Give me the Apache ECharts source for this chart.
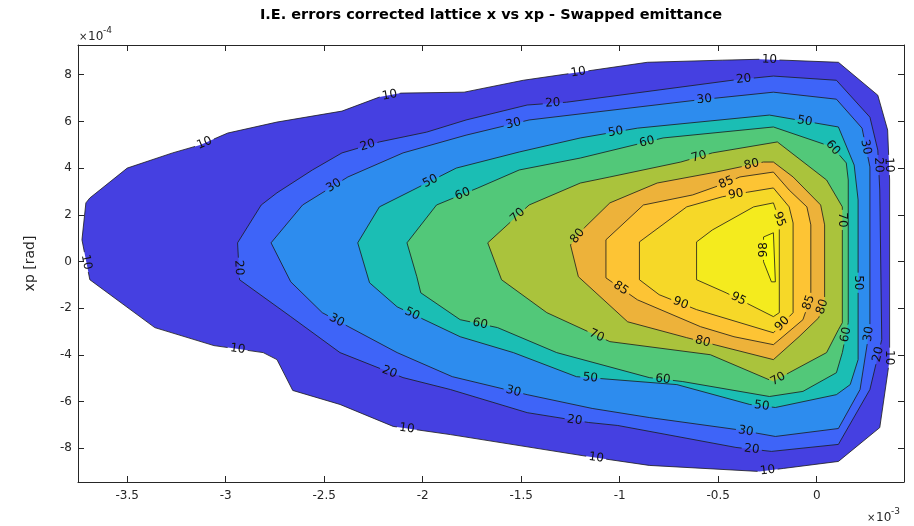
<!DOCTYPE html>
<html>
<head>
<meta charset="utf-8">
<title>I.E. errors corrected lattice x vs xp - Swapped emittance</title>
<script src="https://cdn.jsdelivr.net/npm/echarts@6/dist/echarts.min.js"></script>
<style>
html, body { margin: 0; padding: 0; background: #fff; }
#main { width: 914px; height: 526px; }
</style>
</head>
<body>
<div id="main"></div>
<script>
// contour levels, x in 1e-3 m, xp in 1e-4 rad
var levels = [10, 20, 30, 50, 60, 70, 80, 85, 90, 95, 98];

var c10 = [[-3.71,2.51],[-3.69,2.72],[-3.50,4.00],[-3.27,4.65],[-3.13,4.99],[-2.99,5.50],[-2.74,5.97],[-2.41,6.44],[-2.22,7.04],[-2.11,7.21],[-1.79,7.25],[-1.49,7.76],[-0.86,8.53],[-0.48,8.62],[-0.29,8.66],[0.11,8.53],[0.31,7.12],[0.36,5.63],[0.37,3.49],[0.37,-4.20],[0.32,-7.11],[0.11,-8.56],[-0.17,-8.86],[-0.29,-8.99],[-0.85,-8.73],[-1.16,-8.35],[-1.86,-7.41],[-2.15,-7.06],[-2.42,-6.12],[-2.66,-5.52],[-2.74,-4.20],[-2.81,-3.90],[-3.06,-3.60],[-3.36,-2.83],[-3.69,-0.78],[-3.73,0.93]];
var c20 = [[-2.94,0.80],[-2.82,2.42],[-2.74,2.94],[-2.56,3.92],[-2.41,4.65],[-2.22,5.12],[-1.98,5.54],[-1.78,6.06],[-1.47,6.70],[-1.27,6.82],[-0.43,7.76],[-0.22,7.94],[0.10,7.76],[0.27,6.18],[0.31,4.77],[0.32,3.06],[0.33,-3.35],[0.27,-5.48],[0.11,-7.83],[-0.23,-8.13],[-0.41,-7.96],[-1.01,-7.02],[-1.16,-6.89],[-1.47,-6.47],[-1.86,-5.48],[-2.10,-4.97],[-2.42,-3.90],[-2.67,-2.36],[-2.93,-0.78]];
var c30 = [[-2.77,0.80],[-2.61,2.42],[-2.38,3.62],[-2.10,4.65],[-1.78,5.41],[-1.46,6.06],[-0.61,6.91],[-0.22,7.25],[0.10,6.95],[0.23,5.71],[0.27,4.05],[0.27,-2.79],[0.22,-5.48],[0.11,-7.15],[-0.21,-7.49],[-0.41,-7.19],[-0.85,-6.68],[-1.14,-6.29],[-1.47,-5.70],[-1.85,-4.93],[-2.13,-3.90],[-2.51,-2.19],[-2.67,-0.87]];
var c50 = [[-2.33,0.80],[-2.22,2.34],[-2.05,3.06],[-1.83,4.00],[-1.51,4.69],[-1.20,5.29],[-0.91,5.71],[-0.24,6.27],[0.11,5.76],[0.19,4.13],[0.21,2.64],[0.21,-4.20],[0.17,-5.27],[0.10,-5.70],[-0.21,-6.25],[-0.34,-6.12],[-0.71,-5.27],[-1.22,-4.93],[-1.54,-3.90],[-1.81,-3.22],[-2.13,-1.94],[-2.27,-0.91]];
var c60 = [[-2.08,0.80],[-1.93,2.42],[-1.72,3.15],[-1.51,3.92],[-1.20,4.43],[-0.78,5.29],[-0.22,5.76],[0.08,4.90],[0.15,4.22],[0.16,3.49],[0.16,-2.62],[0.13,-3.90],[0.10,-4.76],[-0.07,-5.56],[-0.24,-5.78],[-0.68,-5.14],[-0.85,-4.97],[-1.32,-3.90],[-1.62,-2.83],[-1.81,-2.49],[-2.01,-1.34],[-2.03,-0.65]];
var c70 = [[-1.67,0.80],[-1.46,2.42],[-1.20,3.36],[-1.05,3.62],[-0.69,4.26],[-0.53,4.65],[-0.20,5.12],[0.05,3.49],[0.13,2.34],[0.13,-2.62],[0.11,-2.92],[0.05,-3.90],[-0.14,-4.76],[-0.22,-5.14],[-0.54,-3.99],[-1.05,-3.43],[-1.37,-2.19],[-1.60,-0.78]];
var c80 = [[-1.25,0.71],[-1.18,1.44],[-1.05,2.51],[-0.81,3.36],[-0.51,3.83],[-0.27,4.26],[-0.22,4.26],[-0.12,3.62],[0.02,2.42],[0.04,1.57],[0.04,-1.64],[0.01,-2.41],[-0.09,-3.22],[-0.22,-4.20],[-0.66,-3.26],[-0.96,-2.58],[-1.21,-0.65]];
var c85 = [[-1.07,0.93],[-0.88,2.42],[-0.63,2.85],[-0.49,3.27],[-0.39,3.62],[-0.22,3.83],[-0.14,3.06],[-0.05,2.34],[-0.03,1.57],[-0.03,-1.51],[-0.07,-2.49],[-0.22,-3.56],[-0.42,-3.22],[-0.59,-2.79],[-0.91,-1.64],[-1.07,-0.70]];
var c90 = [[-0.90,0.84],[-0.66,2.34],[-0.48,2.77],[-0.35,2.97],[-0.22,3.15],[-0.14,2.34],[-0.12,1.65],[-0.12,-2.19],[-0.18,-2.71],[-0.22,-3.05],[-0.61,-2.06],[-0.80,-1.42],[-0.90,-0.78]];
var c95 = [[-0.61,0.84],[-0.53,1.35],[-0.32,2.34],[-0.22,2.51],[-0.19,1.78],[-0.19,-2.19],[-0.22,-2.36],[-0.46,-1.34],[-0.61,-0.78]];
var c98 = [[-0.27,1.05],[-0.22,1.23],[-0.21,-0.87],[-0.23,-0.87],[-0.27,-0.01]];
var contours = [c10, c20, c30, c50, c60, c70, c80, c85, c90, c95, c98];

// where the level labels sit (snapped onto their line)
var lab10 = [[-2.17,7.21],[-1.21,8.11],[-0.24,8.70],[-3.11,5.12],[-3.70,-0.01],[-2.94,-3.77],[-2.08,-7.11],[-1.12,-8.43],[-0.25,-8.90],[0.36,4.13],[0.35,-4.12]];
var lab20 = [[-2.28,4.99],[-1.34,6.82],[-0.37,7.76],[-2.94,-0.27],[-2.17,-4.76],[-1.23,-6.85],[-0.33,-8.04],[0.31,4.13],[0.32,-3.99]];
var lab30 = [[-2.46,3.36],[-1.54,5.93],[-0.57,6.91],[-2.44,-2.58],[-1.54,-5.57],[-0.36,-7.28],[0.25,4.90],[0.28,-3.13]];
var lab50 = [[-1.96,3.41],[-1.02,5.54],[-0.06,6.06],[-2.06,-2.36],[-1.15,-5.06],[-0.28,-6.25],[0.20,-0.91]];
var lab60 = [[-1.80,2.94],[-0.86,5.07],[0.08,4.86],[-1.71,-2.71],[-0.78,-4.97],[0.15,-3.13]];
var lab70 = [[-1.52,1.99],[-0.60,4.56],[0.13,1.78],[-1.12,-3.22],[-0.20,-4.97]];
var lab80 = [[-1.21,1.06],[-0.33,4.13],[-0.58,-3.47],[0.03,-1.94]];
var lab85 = [[-0.46,3.41],[-1.00,-1.21],[-0.04,-1.76]];
var lab90 = [[-0.41,2.85],[-0.69,-1.76],[-0.18,-2.62]];
var lab95 = [[-0.20,1.78],[-0.40,-1.64]];
var lab98 = [[-0.28,0.50]];
var labelSets = [lab10, lab20, lab30, lab50, lab60, lab70, lab80, lab85, lab90, lab95, lab98];

var xTicks = [-3.5, -3, -2.5, -2, -1.5, -1, -0.5, 0];
var yTicks = [-8, -6, -4, -2, 0, 2, 4, 6, 8];

// parula-like fill per band
var bandColors = ['#4540e1', '#3e64f8', '#2d8cee', '#1bbeb4', '#52c879', '#aac33c', '#edb23a', '#fdc434', '#f6d828', '#f4eb1e', '#f9fa12'];

var axisColor = '#262626';
var font = 'DejaVu Sans, sans-serif';

function renderFill(params, api) {
    var i = api.value(0);
    var pts = contours[i].map(function (p) { return api.coord(p); });
    return {
        type: 'polygon',
        shape: { points: pts },
        style: { fill: bandColors[i], stroke: null }
    };
}

function renderLines(params, api) {
    var i = api.value(0);
    var pts = contours[i].map(function (p) { return api.coord(p); });
    var n = pts.length;
    var cum = [0];
    for (var k = 0; k < n; k++) {
        var a = pts[k], b = pts[(k + 1) % n];
        cum.push(cum[k] + Math.hypot(b[0] - a[0], b[1] - a[1]));
    }
    var T = cum[n];
    function pointAt(s) {
        s = ((s % T) + T) % T;
        for (var k = 0; k < n; k++) {
            if (s <= cum[k + 1]) {
                var p0 = pts[k], p1 = pts[(k + 1) % n];
                var seg = cum[k + 1] - cum[k];
                var t = seg ? (s - cum[k]) / seg : 0;
                return [p0[0] + t * (p1[0] - p0[0]), p0[1] + t * (p1[1] - p0[1])];
            }
        }
        return pts[0];
    }

    var txt = String(levels[i]);
    var half = txt.length * 3.8 + 2.5;
    var children = [];
    var gaps = [];
    labelSets[i].forEach(function (an) {
        var q = api.coord(an);
        var best = null;
        for (var k = 0; k < n; k++) {
            var p0 = pts[k], p1 = pts[(k + 1) % n];
            var dx = p1[0] - p0[0], dy = p1[1] - p0[1];
            var L2 = dx * dx + dy * dy;
            var t = L2 ? ((q[0] - p0[0]) * dx + (q[1] - p0[1]) * dy) / L2 : 0;
            t = Math.max(0, Math.min(1, t));
            var px = p0[0] + t * dx, py = p0[1] + t * dy;
            var d = (px - q[0]) * (px - q[0]) + (py - q[1]) * (py - q[1]);
            if (!best || d < best.d) best = { d: d, k: k, t: t, px: px, py: py, dx: dx, dy: dy };
        }
        var s = cum[best.k] + best.t * (cum[best.k + 1] - cum[best.k]);
        gaps.push([s - half, s + half]);
        var rot = -Math.atan2(best.dy, best.dx);
        if (rot > Math.PI / 2) rot -= Math.PI;
        if (rot < -Math.PI / 2) rot += Math.PI;
        children.push({
            type: 'text',
            x: best.px, y: best.py,
            rotation: rot,
            z2: 20,
            style: {
                text: txt, fill: '#111', font: '12px ' + font,
                align: 'center', verticalAlign: 'middle'
            }
        });
    });

    var lineStyle = { stroke: '#1a1a1a', lineWidth: 0.8, fill: null };
    if (!gaps.length) {
        children.push({ type: 'polygon', shape: { points: pts }, style: lineStyle, z2: 10 });
    } else {
        gaps = gaps.map(function (g) {
            var o = Math.floor(g[0] / T) * T;
            return [g[0] - o, g[1] - o];
        }).sort(function (a, b) { return a[0] - b[0]; });
        for (var j = 0; j < gaps.length; j++) {
            var from = gaps[j][1];
            var to = j + 1 < gaps.length ? gaps[j + 1][0] : gaps[0][0] + T;
            if (to <= from) continue;
            var line = [pointAt(from)];
            for (var m = 0; m < 3; m++) {
                for (var k = 0; k < n; k++) {
                    var sv = cum[k] + m * T;
                    if (sv > from && sv < to) line.push(pts[k]);
                }
            }
            line.push(pointAt(to));
            children.push({ type: 'polyline', shape: { points: line }, style: lineStyle, z2: 10 });
        }
    }
    return { type: 'group', children: children };
}

var idx = levels.map(function (lv, i) { return [i]; });

var chart = echarts.init(document.getElementById('main'));
chart.setOption({
    animation: false,
    backgroundColor: '#fff',
    textStyle: { fontFamily: font },
    grid: { left: 78, right: 10, top: 45, bottom: 44 },
    xAxis: [{
        type: 'value', min: -3.75, max: 0.443, position: 'bottom',
        axisLine: { show: true, onZero: false, lineStyle: { color: axisColor, width: 1 } },
        axisTick: { show: true, inside: true, length: 6, customValues: xTicks, lineStyle: { color: axisColor } },
        axisLabel: { customValues: xTicks, color: axisColor, fontSize: 12, margin: 8, fontFamily: font },
        splitLine: { show: false }
    }, {
        type: 'value', min: -3.75, max: 0.443, position: 'top',
        axisLine: { show: true, onZero: false, lineStyle: { color: axisColor, width: 1 } },
        axisTick: { show: true, inside: true, length: 6, customValues: xTicks, lineStyle: { color: axisColor } },
        axisLabel: { show: false },
        splitLine: { show: false }
    }],
    yAxis: [{
        type: 'value', min: -9.44, max: 9.27, position: 'left',
        name: 'xp [rad]', nameLocation: 'middle', nameGap: 41,
        nameTextStyle: { color: axisColor, fontSize: 14, fontFamily: font },
        axisLine: { show: true, onZero: false, lineStyle: { color: axisColor, width: 1 } },
        axisTick: { show: true, inside: true, length: 6, customValues: yTicks, lineStyle: { color: axisColor } },
        axisLabel: { customValues: yTicks, color: axisColor, fontSize: 12, margin: 6, fontFamily: font },
        splitLine: { show: false }
    }, {
        type: 'value', min: -9.44, max: 9.27, position: 'right',
        axisLine: { show: true, onZero: false, lineStyle: { color: axisColor, width: 1 } },
        axisTick: { show: true, inside: true, length: 6, customValues: yTicks, lineStyle: { color: axisColor } },
        axisLabel: { show: false },
        splitLine: { show: false }
    }],
    graphic: [
        { type: 'text', x: 491, y: 15, style: { text: 'I.E. errors corrected lattice x vs xp - Swapped emittance', font: 'bold 14.5px ' + font, fill: '#000', align: 'center', verticalAlign: 'middle' } },
        { type: 'text', x: 79, y: 37, style: { text: '×', font: '10px ' + font, fill: axisColor, verticalAlign: 'middle' } },
        { type: 'text', x: 88, y: 37, style: { text: '10', font: '12px ' + font, fill: axisColor, verticalAlign: 'middle' } },
        { type: 'text', x: 103, y: 31, style: { text: '-4', font: '9px ' + font, fill: axisColor, verticalAlign: 'middle' } },
        { type: 'text', x: 867, y: 518, style: { text: '×', font: '10px ' + font, fill: axisColor, verticalAlign: 'middle' } },
        { type: 'text', x: 876, y: 518, style: { text: '10', font: '12px ' + font, fill: axisColor, verticalAlign: 'middle' } },
        { type: 'text', x: 891, y: 512, style: { text: '-3', font: '9px ' + font, fill: axisColor, verticalAlign: 'middle' } }
    ],
    series: [{
        type: 'custom', name: 'fill', xAxisIndex: 0, yAxisIndex: 0,
        renderItem: renderFill, data: idx, z: 2, silent: true
    }, {
        type: 'custom', name: 'lines', xAxisIndex: 0, yAxisIndex: 0,
        renderItem: renderLines, data: idx, z: 3, silent: true
    }]
});
</script>
</body>
</html>
